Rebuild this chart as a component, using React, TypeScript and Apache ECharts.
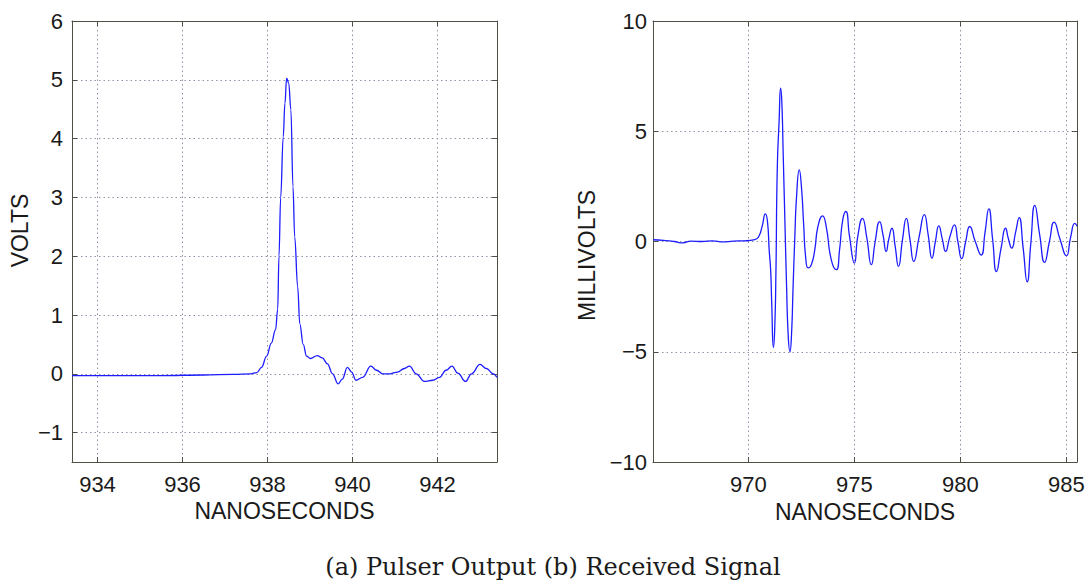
import React, { useEffect, useRef } from "react";
import * as echarts from "echarts";

// Pulser output (left): time in ns, volts
const pulserTime = [
  933.4, 934.5, 935.5, 936.5, 937.2, 937.6, 937.75, 937.86, 937.98, 938.09, 938.19, 938.24, 938.27, 938.31,
  938.37, 938.41, 938.45, 938.5, 938.55, 938.6, 938.64, 938.71, 938.76, 938.84, 938.92, 939.01, 939.17,
  939.29, 939.41, 939.53, 939.66, 939.76, 939.88, 939.98, 940.08, 940.24, 940.43, 940.57, 940.71, 940.87,
  941.06, 941.22, 941.34, 941.5, 941.69, 941.89, 942.05, 942.2, 942.34, 942.48, 942.66, 942.8, 943.0,
  943.15, 943.31, 943.4,
];
const pulserVolts = [
  -0.03, -0.03, -0.03, -0.02, -0.01, 0.0, 0.02, 0.11, 0.3, 0.52, 0.75, 1.1, 2.0, 3.0,
  4.03, 4.6, 5.03, 4.94, 4.49, 3.18, 2.33, 1.48, 0.85, 0.5, 0.3, 0.26, 0.31,
  0.27, 0.17, 0.0, -0.17, -0.09, 0.11, 0.03, -0.11, -0.06, 0.13, 0.06, 0.0, 0.0,
  0.03, 0.09, 0.13, 0.0, -0.13, -0.11, -0.06, 0.06, 0.13, 0.01, -0.13, 0.0, 0.16,
  0.09, 0.0, -0.06,
];

// Received signal (right): time in ns, millivolts
const recvTime = [
  965.5, 966.0, 966.5, 966.9, 967.3, 967.8, 968.3, 968.8, 969.3, 969.8, 970.3, 970.5, 970.65, 970.8,
  970.9, 970.98, 971.05, 971.1, 971.18, 971.24, 971.3, 971.36, 971.45, 971.52, 971.58, 971.64, 971.72,
  971.8, 971.88, 971.96, 972.03, 972.11, 972.19, 972.27, 972.4, 972.5, 972.61, 972.7, 972.82, 972.97,
  973.13, 973.28, 973.5, 973.67, 973.91, 974.15, 974.3, 974.45, 974.6, 974.77, 975.0, 975.16, 975.38,
  975.58, 975.8, 975.98, 976.19, 976.35, 976.5, 976.62, 976.77, 976.92, 977.08, 977.27, 977.45, 977.62,
  977.8, 978.05, 978.3, 978.48, 978.66, 978.82, 978.98, 979.15, 979.3, 979.5, 979.72, 979.88, 980.06,
  980.25, 980.44, 980.7, 980.98, 981.16, 981.34, 981.52, 981.7, 981.92, 982.13, 982.27, 982.42, 982.6,
  982.77, 982.96, 983.15, 983.32, 983.51, 983.74, 983.97, 984.2, 984.42, 984.7, 985.0, 985.2, 985.4, 985.5,
];
const recvMillivolts = [
  0.08, 0.05, 0.0, -0.06, 0.02, 0.0, 0.03, -0.02, 0.02, 0.03, 0.08, 0.25, 0.7, 1.25,
  0.9, -0.38, -1.3, -2.8, -4.8, -4.0, -1.3, 3.2, 5.5, 6.95, 6.25, 4.0, 1.0,
  -2.0, -4.3, -5.0, -4.3, -2.0, 0.2, 2.0, 3.25, 2.5, 0.7, -0.7, -1.2, -1.05,
  -0.38, 0.68, 1.16, 0.68, -0.83, -1.28, -0.38, 0.98, 1.36, 0.23, -0.98, 0.23, 1.05,
  0.2, -1.05, 0.0, 0.9, 0.3, -0.45, 0.1, 0.6, -0.2, -1.13, 0.1, 1.05, 0.1,
  -0.9, 0.2, 1.22, 0.3, -0.75, 0.0, 0.71, 0.1, -0.45, 0.2, 0.75, 0.0, -0.78,
  0.0, 0.68, 0.0, -0.62, 0.4, 1.48, 0.1, -1.36, -0.3, 0.6, 0.1, -0.3, 0.4,
  1.08, -0.3, -1.83, -0.1, 1.64, 0.3, -0.95, 0.0, 0.88, 0.1, -0.65, 0.2, 0.82, 0.7,
];

const caption = "(a) Pulser Output (b) Received Signal";
const xName = "NANOSECONDS";
const leftYName = "VOLTS";
const rightYName = "MILLIVOLTS";

const FONT = "'Liberation Sans', Arial, Helvetica, sans-serif";
const TEXT = "#1a1a1a";
const BOX = "#4f4f45";
const GRIDC = "#8f93a8";

const minusFmt = (v: number) => String(v).replace("-", "\u2212");

function labelStyle(margin: number, showMin: boolean, showMax: boolean) {
  return {
    color: TEXT,
    fontFamily: FONT,
    fontSize: 22,
    formatter: minusFmt,
    showMinLabel: showMin,
    showMaxLabel: showMax,
    margin,
  };
}

function baseAxis(extra: any) {
  return {
    type: "value",
    axisLine: { show: true, onZero: false, lineStyle: { color: BOX, width: 1 } },
    axisTick: { show: true, inside: true, length: 5, lineStyle: { color: BOX } },
    splitLine: { show: true, lineStyle: { color: GRIDC, type: [1.5, 3], width: 1 } },
    nameTextStyle: { color: TEXT, fontFamily: FONT, fontSize: 23 },
    ...extra,
  };
}

function mirror(kind: "x" | "y", gridIndex: number, min: number, max: number, split: number) {
  return {
    type: "value",
    gridIndex,
    position: kind === "x" ? "top" : "right",
    min,
    max,
    splitNumber: split,
    axisLine: { show: true, onZero: false, lineStyle: { color: BOX, width: 1 } },
    axisTick: { show: true, inside: true, length: 5, lineStyle: { color: BOX } },
    axisLabel: { show: false },
    splitLine: { show: false },
  };
}

export default function App() {
  const ref = useRef<HTMLDivElement>(null);
  useEffect(() => {
    if (!ref.current) return;
    const chart = echarts.init(ref.current, null, { renderer: "svg" });
    const leftData = pulserTime.map((t, i) => [t, pulserVolts[i]]);
    const rightData = recvTime.map((t, i) => [t, recvMillivolts[i]]);
    chart.setOption({
      animation: false,
      backgroundColor: "#ffffff",
      grid: [
        { left: 72, top: 21, width: 425, height: 441, containLabel: false },
        { left: 653, top: 21, width: 424, height: 441, containLabel: false },
      ],
      xAxis: [
        baseAxis({
          gridIndex: 0,
          min: 933.4,
          max: 943.4,
          splitNumber: 5,
          name: xName,
          nameLocation: "middle",
          nameGap: 37,
          axisLabel: labelStyle(11, false, false),
        }),
        mirror("x", 0, 933.4, 943.4, 5),
        baseAxis({
          gridIndex: 1,
          min: 965.5,
          max: 985.5,
          splitNumber: 4,
          name: xName,
          nameLocation: "middle",
          nameGap: 38,
          axisLabel: labelStyle(11, false, false),
        }),
        mirror("x", 1, 965.5, 985.5, 4),
      ],
      yAxis: [
        baseAxis({
          gridIndex: 0,
          min: -1.5,
          max: 6,
          splitNumber: 8,
          name: leftYName,
          nameLocation: "middle",
          nameGap: 41,
          nameTextStyle: { color: TEXT, fontFamily: FONT, fontSize: 23, padding: [0, 0, 0, 22] },
          axisLabel: labelStyle(9, false, true),
        }),
        mirror("y", 0, -1.5, 6, 8),
        baseAxis({
          gridIndex: 1,
          min: -10,
          max: 10,
          interval: 5,
          name: rightYName,
          nameLocation: "middle",
          nameGap: 55,
          nameTextStyle: { color: TEXT, fontFamily: FONT, fontSize: 23, padding: [0, 28, 0, 0] },
          axisLabel: labelStyle(6, true, true),
        }),
        mirror("y", 1, -10, 10, 4),
      ],
      series: [
        {
          type: "line",
          xAxisIndex: 0,
          yAxisIndex: 0,
          data: leftData,
          showSymbol: false,
          smooth: 0.4,
          smoothMonotone: "x",
          lineStyle: { color: "#1c1cff", width: 1.3 },
        },
        {
          type: "line",
          xAxisIndex: 2,
          yAxisIndex: 2,
          data: rightData,
          showSymbol: false,
          smooth: 0.55,
          lineStyle: { color: "#1c1cff", width: 1.3 },
        },
      ],
      graphic: [
        {
          type: "text",
          x: 553,
          y: 567,
          style: {
            text: caption,
            fontFamily: "'DejaVu Serif', serif",
            fontSize: 24,
            fill: TEXT,
            textAlign: "center",
            textVerticalAlign: "middle",
          },
        },
      ],
    });
    return () => chart.dispose();
  }, []);
  return (
    <div
      ref={ref}
      style={{ position: "fixed", left: 0, top: 0, width: 1088, height: 585, background: "#fff" }}
    />
  );
}
